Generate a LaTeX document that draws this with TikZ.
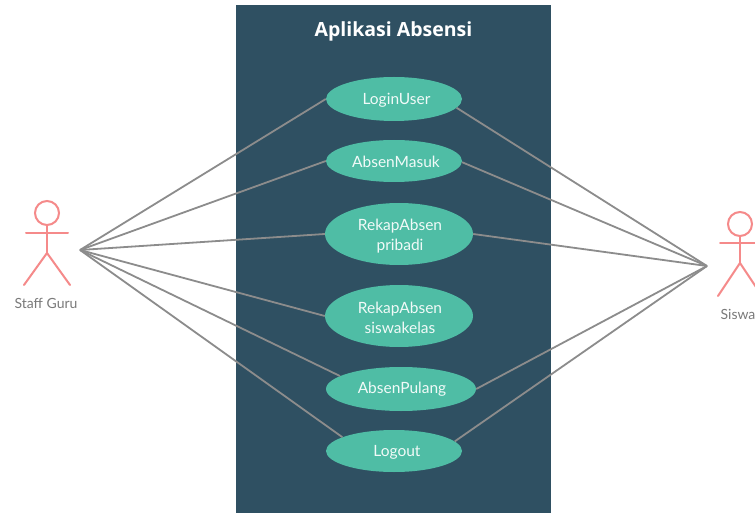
\documentclass[tikz,border=0pt]{standalone}
\usepackage{fontspec}
\setmainfont{Open Sans}
\newfontfamily\labelfont{Lato}
\usetikzlibrary{shapes.geometric}
\definecolor{panel}{HTML}{2F5062}
\definecolor{usecase}{HTML}{4FBDA5}
\definecolor{actorred}{HTML}{F58A8A}
\definecolor{wire}{HTML}{8C8C8C}
\definecolor{cap}{HTML}{7A7A7A}
\tikzset{
  uc/.style={ellipse,fill=usecase,inner sep=0pt},
  uctext/.style={align=center,inner sep=0pt,text=white!92!usecase,
    font=\labelfont\fontsize{15.5}{20}\selectfont},
  wirel/.style={draw=wire,line width=1.8pt},
  limb/.style={draw=actorred,line width=2pt,line cap=round},
  actorcap/.style={text=cap,font=\labelfont\fontsize{14}{15}\selectfont,inner sep=0pt},
}
\begin{document}
\begin{tikzpicture}[x=1pt,y=-1pt]
\useasboundingbox (0,0) rectangle (755,513);
\fill[white] (0,0) rectangle (755,513);
\fill[panel] (236,5) rectangle (551,513);
\node[text=white,font=\fontsize{19.5}{24}\selectfont,inner sep=0pt] (title) at (393.5,31) {\textbf{Aplikasi Absensi}};
\node[uc,minimum width=136pt,minimum height=44pt,label={[uctext,xshift=2.5pt,yshift=-1pt]center:LoginUser}] (login) at (394,99) {};
\node[uc,minimum width=136pt,minimum height=42pt,label={[uctext,xshift=2pt,yshift=-0.5pt]center:AbsenMasuk}] (masuk) at (394,161) {};
\node[uc,minimum width=148pt,minimum height=62pt,label={[uctext,xshift=1pt,yshift=-2pt]center:RekapAbsen\\pribadi}] (pribadi) at (399,234) {};
\node[uc,minimum width=148pt,minimum height=62pt,label={[uctext,xshift=1pt,yshift=-2pt]center:RekapAbsen\\siswakelas}] (siswa) at (399,316) {};
\node[uc,minimum width=150pt,minimum height=44pt,label={[uctext,xshift=1pt,yshift=-0.5pt]center:AbsenPulang}] (pulang) at (401,389) {};
\node[uc,minimum width=136pt,minimum height=42pt,label={[uctext,xshift=3pt,yshift=-1pt]center:Logout}] (logout) at (394,451) {};
% connectors
\coordinate (gl) at (80,250);
\coordinate (gr) at (707,266);
\draw[wirel] (gl) -- (login.west);
\draw[wirel] (gl) -- (masuk.west);
\draw[wirel] (gl) -- (pribadi.west);
\draw[wirel] (gl) -- (siswa.west);
\draw[wirel] (gl) -- (pulang.168);
\draw[wirel] (gl) -- (logout.165);
\draw[wirel] (gr) -- (login.-8);
\draw[wirel] (gr) -- (masuk.-1);
\draw[wirel] (gr) -- (pribadi.east);
\draw[wirel] (gr) -- (pulang.east);
\draw[wirel] (gr) -- (logout.9);
% Staff Guru actor
\node[draw=actorred,line width=2pt,circle,minimum size=24pt,inner sep=0pt] (headL) at (47,213) {};
\coordinate (hipL) at (47,253);
\coordinate (armLa) at (26,233);
\coordinate (armLb) at (68,233);
\coordinate (footLa) at (24,285);
\coordinate (footLb) at (70,285);
\draw[limb] (headL) -- (hipL);
\draw[limb] (armLa) -- (armLb);
\draw[limb] (footLa) -- (hipL) -- (footLb);
\node[actorcap] (capL) at (46,303) {Staff Guru};
% Siswa actor
\node[draw=actorred,line width=2pt,circle,minimum size=24pt,inner sep=0pt] (headR) at (740,224) {};
\coordinate (hipR) at (740,263);
\coordinate (armRa) at (720,243);
\coordinate (armRb) at (762,243);
\coordinate (footRa) at (718,296);
\coordinate (footRb) at (762,296);
\draw[limb] (headR) -- (hipR);
\draw[limb] (armRa) -- (armRb);
\draw[limb] (footRa) -- (hipR) -- (footRb);
\node[actorcap] (capR) at (738,314) {Siswa};
\end{tikzpicture}
\end{document}
